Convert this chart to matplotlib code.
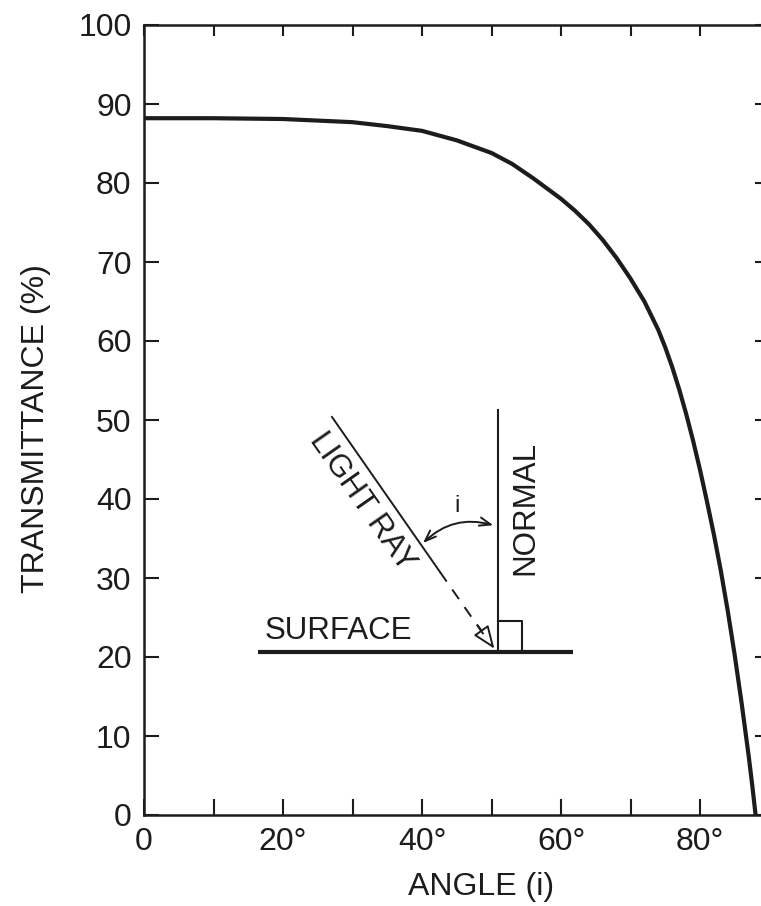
import matplotlib
matplotlib.use("Agg")
import matplotlib.pyplot as plt
from matplotlib.patches import FancyArrowPatch

# curve
angle = [0, 10, 20, 30, 35, 40, 45, 50, 53, 56, 58, 60, 62, 64, 66, 68, 70,
         72, 74, 75, 76, 77, 78, 79, 80, 81, 82, 83, 84, 85, 86, 87, 87.5, 88]
transmittance = [88.2, 88.2, 88.1, 87.7, 87.2, 86.6, 85.4, 83.8, 82.4, 80.6, 79.3, 78.0,
                 76.5, 74.8, 72.8, 70.5, 67.9,
                 65.0, 61.4, 59.2, 56.7, 53.9, 50.8, 47.4, 43.7, 39.7, 35.5, 30.9,
                 25.8, 20.2, 14.1, 7.5, 3.9, 0.0]

x_ticks = [0, 10, 20, 30, 40, 50, 60, 70, 80]
x_labels = ["0", "", "20°", "", "40°", "", "60°", "", "80°"]
y_ticks = [0, 10, 20, 30, 40, 50, 60, 70, 80, 90, 100]

ink = "#1c1c1c"
plt.rcParams['font.family'] = ['Liberation Sans', 'DejaVu Sans']

fig = plt.figure(figsize=(7.61, 9.06), dpi=100)
W, H = 761, 906
ax = fig.add_axes([144 / W, (H - 815) / H, (769.5 - 144) / W, (815 - 25) / H])

ax.plot(angle, transmittance, color=ink, lw=3.0, solid_capstyle='butt',
        solid_joinstyle='round', clip_on=False)
ax.set_xlim(0, 90)
ax.set_ylim(0, 100)

for s in ax.spines.values():
    s.set_linewidth(1.8)
    s.set_color(ink)

ax.set_xticks(x_ticks)
ax.set_xticklabels(x_labels)
ax.set_yticks(y_ticks)
ax.tick_params(axis='x', direction='in', length=11.5, width=1.5, color=ink,
               labelsize=23, labelcolor=ink, pad=9)
ax.tick_params(axis='y', direction='in', length=11, width=1.5, color=ink,
               labelsize=23, labelcolor=ink, pad=9, right=True)

# shorter ticks along the top edge
top = ax.secondary_xaxis('top')
top.set_xticks(x_ticks)
top.set_xticklabels([])
top.tick_params(direction='in', length=8, width=1.5, color=ink)
top.spines['top'].set_linewidth(0)

fig.text(481 / W, 1 - 887 / H, "ANGLE (i)", fontsize=23, color=ink, ha='center', va='center')
fig.text(36 / W, 1 - 429 / H, "TRANSMITTANCE (%)", fontsize=23, color=ink,
         ha='center', va='center', rotation=90)

# inset sketch of the geometry, local pixel-like coordinates (y down)
d = fig.add_axes([250 / W, (H - 660) / H, 330 / W, 260 / H])
d.set_xlim(0, 330)
d.set_ylim(260, 0)
d.axis('off')
d.patch.set_alpha(0)

d.plot([8, 323], [252, 252], color=ink, lw=3.0, solid_capstyle='butt')
d.plot([248, 248], [10, 252], color=ink, lw=1.5)
d.plot([248, 272, 272], [221, 221, 252], color=ink, lw=1.5)
d.text(15, 239, "SURFACE", fontsize=22.5, color=ink, ha='left', va='baseline')
d.text(275, 108, "NORMAL", fontsize=22.5, color=ink, ha='center', va='center', rotation=90)

# light ray: solid, then dashed down to an open arrow head
d.plot([82, 190], [17, 172], color=ink, lw=1.4)
d.plot([190, 234], [172, 235], color=ink, lw=1.4, dashes=(6, 5))
d.add_patch(FancyArrowPatch((226, 223), (246, 251), arrowstyle='-|>,head_length=14,head_width=5.5',
                            mutation_scale=1, color=ink, fc='white', lw=1.4))
d.text(112, 102, "LIGHT RAY", fontsize=22.5, color=ink, ha='center', va='center', rotation=-55)

d.add_patch(FancyArrowPatch((171, 145), (246, 126), arrowstyle='<->,head_length=8,head_width=3',
                            connectionstyle='arc3,rad=-0.3', mutation_scale=1, color=ink, lw=1.4))
d.text(207, 106, "i", fontsize=17, color=ink, ha='center', va='center')

fig.savefig("out.png", dpi=100)
